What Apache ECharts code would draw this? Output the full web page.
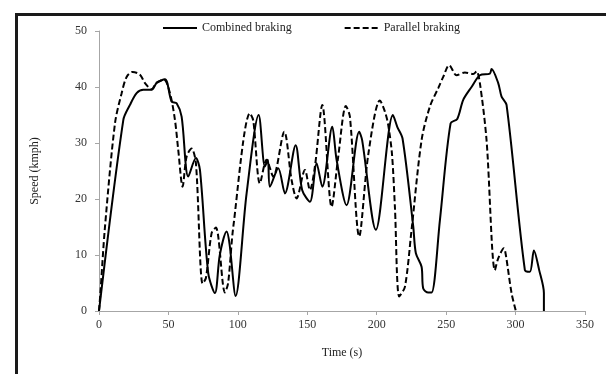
<!DOCTYPE html>
<html>
<head>
<meta charset="utf-8">
<script src="https://cdn.jsdelivr.net/npm/echarts@6/dist/echarts.min.js"></script>
<style>html,body{margin:0;padding:0;background:#fff;}#c{width:606px;height:374px;}</style>
</head>
<body>
<div id="c"></div>
<script>
const seriesNames = ['Combined braking', 'Parallel braking'];
const xTicks = [0, 50, 100, 150, 200, 250, 300, 350];
const yTicks = [0, 10, 20, 30, 40, 50];
const combined = [[0,0],[17.5,34.1],[22.3,36.8],[27.1,38.9],[31.9,39.5],[37.9,39.5],[41.5,40.7],[47.5,41.4],[52.3,37.4],[55.9,37.1],[59.5,34.7],[64.3,24.0],[69.8,27.3],[72.7,25.2],[78.7,6.7],[83.5,3.2],[87,10],[91.9,14.2],[94,12],[98.4,2.7],[106.3,21],[115,35],[119.5,25.8],[121.6,27],[123.1,22.2],[129.1,25.5],[133.9,21],[141.6,29.6],[146.3,21.6],[151.9,19.5],[156.7,26.4],[160.8,22.2],[168,32.9],[171.1,27],[178.3,18.9],[187.4,32],[189.5,30.5],[199.4,14.5],[211.7,35],[214.8,32.9],[218.6,30.8],[226.3,15.1],[228.2,10.3],[232.3,7.9],[233.5,4],[237.1,3.3],[239.5,3.3],[245.5,16.2],[253.2,33.5],[258,34.3],[262.3,37.7],[268.3,40],[274.3,42.1],[281.5,42.4],[282.7,43.2],[287.5,40.7],[289.9,38.3],[293.5,36.8],[306.7,7.3],[310.3,7],[313.2,10.8],[317,7.3],[320.4,3.2],[320.4,0]];
const parallel = [[0,0],[1,3.2],[4.3,15],[11.5,33.5],[16.3,38.9],[19.9,41.8],[24.2,42.7],[29.5,42.2],[33.1,40.7],[37.9,39.6],[41.5,40.8],[46.8,41.3],[51.1,38.9],[54.7,34.1],[57.1,28.7],[60.2,22.2],[63.1,27.6],[66.7,29],[69.8,26.4],[74.6,4.9],[77,5.9],[81.1,13.9],[84.2,14.9],[90.7,3.3],[93,5],[96.7,15],[108.7,35.3],[111.1,34],[115.9,22.8],[120.7,27],[125.5,24],[133.4,32],[138.7,23.4],[142.3,20.1],[148.3,25.2],[151.9,21.6],[155.5,25.8],[160.8,36.8],[167.5,18.6],[172.3,27.6],[177.8,36.6],[180.7,34.7],[187.4,13.3],[193.9,27.9],[202.3,37.6],[205.9,35.6],[208.3,33.2],[211,28],[213.1,18.6],[216.2,2.6],[220.3,4.3],[225.1,14.5],[232.3,30.5],[238.3,36.5],[244.3,39.8],[247.9,41.8],[252.2,43.9],[257.5,42.1],[263.5,42.6],[269.5,42.3],[271.9,42.8],[274.3,40.7],[279.1,30.5],[285.1,7.3],[287.5,9.4],[291.6,11.2],[293,10],[297.1,3.2],[300.2,0]];

const FONT = '"Liberation Serif", "Times New Roman", serif';
const chart = echarts.init(document.getElementById('c'), null, {renderer: 'canvas'});
chart.setOption({
  animation: false,
  backgroundColor: '#fff',
  graphic: [{
    type: 'rect', left: 14, top: 12, z: 100,
    shape: {x: 0, y: 0, width: 620, height: 400},
    style: {fill: 'none', stroke: '#1a1a1a', lineWidth: 3}
  }],
  legend: {
    top: 17, left: 157, itemWidth: 34, itemHeight: 12, itemGap: 52, textGap: 3,
    itemStyle: {opacity: 0},
    textStyle: {fontFamily: FONT, fontSize: 12, color: '#222'},
    data: seriesNames
  },
  grid: {left: 99, right: 21, top: 31, bottom: 63, containLabel: false},
  xAxis: {
    type: 'value', min: xTicks[0], max: xTicks[xTicks.length-1], interval: 50,
    name: 'Time (s)', nameLocation: 'middle', nameGap: 36,
    nameTextStyle: {fontFamily: FONT, fontSize: 12, color: '#222'},
    axisLine: {lineStyle: {color: '#a6a6a6', width: 1}},
    axisTick: {show: true, length: 4, lineStyle: {color: '#a6a6a6'}},
    axisLabel: {fontFamily: FONT, fontSize: 12, color: '#333', margin: 8},
    splitLine: {show: false}
  },
  yAxis: {
    type: 'value', min: yTicks[0], max: yTicks[yTicks.length-1], interval: 10,
    name: 'Speed (kmph)', nameLocation: 'middle', nameGap: 58, nameRotate: 90,
    nameTextStyle: {fontFamily: FONT, fontSize: 12, color: '#222'},
    axisLine: {show: true, lineStyle: {color: '#a6a6a6', width: 1}},
    axisTick: {show: true, length: 4, lineStyle: {color: '#a6a6a6'}},
    axisLabel: {fontFamily: FONT, fontSize: 12, color: '#333', margin: 12},
    splitLine: {show: false}
  },
  series: [
    {name: seriesNames[0], type: 'line', data: combined, symbol: 'none', smooth: 0.3,
     lineStyle: {color: '#000', width: 2, type: 'solid'}, itemStyle: {color: '#000'}},
    {name: seriesNames[1], type: 'line', data: parallel, symbol: 'none', smooth: 0.3,
     lineStyle: {color: '#000', width: 2, type: [6, 3]}, itemStyle: {color: '#000'}}
  ]
});
</script>
</body>
</html>
